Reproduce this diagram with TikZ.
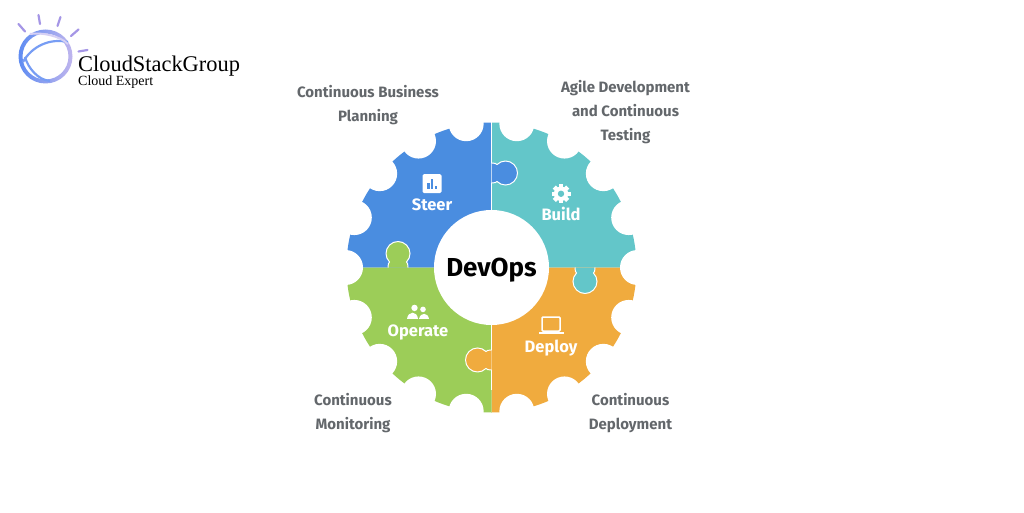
\documentclass[tikz,border=0pt]{standalone}
\usepackage{fontspec}
\setmainfont{Fira Sans}
\newfontfamily\logofont{Liberation Serif}
\usetikzlibrary{positioning, calc}
\definecolor{steerblue}{HTML}{4A8DE0}
\definecolor{buildteal}{HTML}{63C6C9}
\definecolor{operategreen}{HTML}{9CCD58}
\definecolor{deployorange}{HTML}{F0AB3E}
\definecolor{labelgray}{HTML}{63676B}
\definecolor{raypurple}{HTML}{A596E6}
\definecolor{ringblue}{HTML}{5F8CF2}
\newcommand{\puzzletab}[3]{
    \begin{scope}[shift={(#1)}, rotate=#2]
        \fill[#3] (0,-10) .. controls (3,-10) and (5,-9.5) .. (5.5,-8.5) arc[start angle=-135, end angle=135, radius=12] .. controls (5,9.5) and (3,10) .. (0,10) -- cycle;
        \draw[white, line width=1pt] (0,-10) .. controls (3,-10) and (5,-9.5) .. (5.5,-8.5) arc[start angle=-135, end angle=135, radius=12] .. controls (5,9.5) and (3,10) .. (0,10);
    \end{scope}
}
\tikzset{
    stage/.style={text=white, font=\fontsize{16.5}{18}\selectfont\bfseries, inner sep=0pt},
    outer/.style={text=labelgray, align=center, font=\fontsize{15}{24}\selectfont\bfseries, inner sep=0pt},
    icon/.style={minimum size=20pt, inner sep=0pt},
    ray/.style={raypurple, line width=2.2pt, line cap=round}
}
\begin{document}
\begin{tikzpicture}[x=1pt, y=1pt]
    \useasboundingbox (0,0) rectangle (1024,512);
    \fill[white] (0,0) rectangle (1024,512);
    \coordinate (C) at (491.5,244.5);

    % quadrants
    \fill[steerblue] (C) -- ++(180:145) arc[start angle=180, end angle=90, radius=145] -- cycle;
    \fill[buildteal] (C) -- ++(90:145) arc[start angle=90, end angle=0, radius=145] -- cycle;
    \fill[deployorange] (C) -- ++(0:145) arc[start angle=0, end angle=-90, radius=145] -- cycle;
    \fill[operategreen] (C) -- ++(-90:145) arc[start angle=-90, end angle=-180, radius=145] -- cycle;

    % notches
    \foreach \a in {0,20,...,340}
        \fill[white] (C) ++(\a:146) circle[radius=17.5];

    \draw[white, line width=1pt] (491.5,122) -- (491.5,390);
    \puzzletab{491.5,339}{0}{steerblue}
    \puzzletab{398,244.5}{90}{operategreen}
    \puzzletab{585,244.5}{-90}{buildteal}
    \puzzletab{491.5,152}{180}{deployorange}

    \node (hub) [circle, fill=white, minimum size=115pt, inner sep=0pt] at (C) {};
    \node (devops) [font=\fontsize{26}{28}\selectfont\bfseries, inner sep=0pt] at ([yshift=-2.5pt]hub.center) {DevOps};

    \node (steer) [stage] at (432,307) {Steer};
    \node (build) [stage] at (561,298) {Build};
    \node (operate) [stage] at (418,180) {Operate};
    \node (deploy) [stage] at (551,164) {Deploy};
    \node (steericon) [icon, above=5pt of steer] {};
    \node (buildicon) [icon, above=3pt of build] {};
    \node (operateicon) [icon, above=1pt of operate] {};
    \node (deployicon) [icon, above=4pt of deploy] {};

    % icons
    \begin{scope}[shift={(steericon)}]
        \fill[white, rounded corners=1.5pt] (-9.5,-9.5) rectangle (9.5,9.5);
        \fill[steerblue] (-5,-5.5) rectangle (-2.5,1);
        \fill[steerblue] (-1.2,-5.5) rectangle (1.2,5);
        \fill[steerblue] (2.5,-5.5) rectangle (5,-2);
    \end{scope}
    \begin{scope}[shift={(buildicon)}]
        \foreach \a in {0,45,...,315}
            \fill[white, rotate=\a] (-2.2,5) rectangle (2.2,9.5);
        \fill[white] (0,0) circle[radius=7.2];
        \fill[buildteal] (0,0) circle[radius=3.2];
    \end{scope}
    \begin{scope}[shift={(operateicon)}]
        \fill[white] (-3.5,5) circle[radius=3.2];
        \fill[white] (5,3.5) circle[radius=2.8];
        \fill[white] (-11,-6) .. controls (-10,2) and (-1,2.5) .. (0,-6) -- cycle;
        \fill[white] (1,-6) .. controls (2.5,1) and (10,0.5) .. (11,-6) -- cycle;
    \end{scope}
    \begin{scope}[shift={(deployicon)}]
        \draw[white, line width=1.5pt, rounded corners=1pt] (-9,-5.5) -- (-9,8.5) -- (9,8.5) -- (9,-5.5) -- cycle;
        \fill[white] (-12.5,-8.5) rectangle (12.5,-6.5);
    \end{scope}

    \node (planning) [outer] at (368,407) {Continuous Business\\Planning};
    \node (testing) [outer] at (625.5,400) {Agile Development\\and Continuous\\Testing};
    \node (monitoring) [outer] at (353,99) {Continuous\\Monitoring};
    \node (deployment) [outer] at (630.5,99) {Continuous\\Deployment};

    % logo
    \shade[left color=ringblue, right color=raypurple!70, even odd rule] (45.5,455.5) circle[radius=27] circle[radius=23];
    \draw[ringblue!85, line width=2.2pt] (23,450) .. controls (32,466) and (50,474) .. (68,470);
    \draw[ringblue!85, line width=2.2pt] (25,455) .. controls (28,444) and (38,432) .. (50,431);
    \draw[raypurple!45, line width=2pt] (30,478) .. controls (42,480) and (60,476) .. (68,468);
    \draw[ray] (18.5,488) -- (25,480.5);
    \draw[ray] (38.5,497) -- (40,488);
    \draw[ray] (60.5,495) -- (57.5,486);
    \draw[ray] (78.5,482.5) -- (71,476);
    \draw[ray] (87.5,462) -- (78.5,460.5);
    \node (brand) [anchor=base west, inner sep=0pt, font=\logofont\fontsize{22.4}{26}\selectfont] at (78,440) {CloudStackGroup};
    \node (tagline) [anchor=base west, inner sep=0pt, font=\logofont\fontsize{14}{15}\selectfont] at (78,426) {Cloud Expert};
\end{tikzpicture}
\end{document}
